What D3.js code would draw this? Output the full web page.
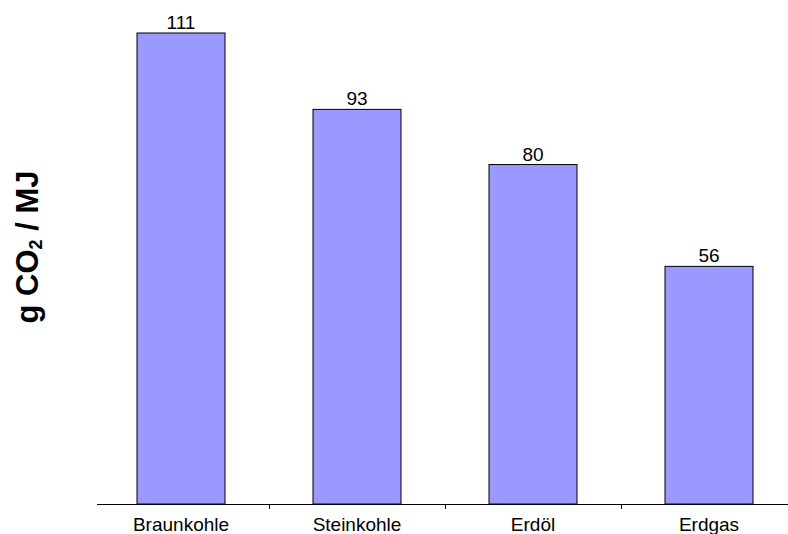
<!DOCTYPE html>
<html>
<head>
<meta charset="utf-8">
<script src="https://cdn.jsdelivr.net/npm/d3@7"></script>
<style>
  html, body { margin: 0; padding: 0; background: #fff; }
  svg { display: block; font-family: "Liberation Sans", Arial, sans-serif; }
</style>
</head>
<body>
<svg id="chart" width="788" height="534"></svg>
<script>
// Emissionsfaktoren fossiler Energieträger (g CO2 je MJ)
const categories = ["Braunkohle", "Steinkohle", "Erdöl", "Erdgas"];
const values = [111, 93, 80, 56];

const svg = d3.select("#chart");

const x = d3.scaleBand()
  .domain(categories)
  .range([93, 797])
  .paddingInner(0.5)
  .paddingOuter(0.25);

const y = d3.scaleLinear()
  .domain([0, 111])
  .range([504, 33]);

// Balken
svg.selectAll("rect.bar")
  .data(values)
  .join("rect")
  .attr("class", "bar")
  .attr("x", (d, i) => x(categories[i]))
  .attr("y", d => y(d))
  .attr("width", x.bandwidth())
  .attr("height", d => y(0) - y(d))
  .attr("fill", "#9999ff")
  .attr("stroke", "#000")
  .attr("stroke-width", 1);

// Werte über den Balken
svg.selectAll("text.val")
  .data(values)
  .join("text")
  .attr("class", "val")
  .attr("x", (d, i) => x(categories[i]) + x.bandwidth() / 2)
  .attr("y", d => y(d) - 4)
  .attr("text-anchor", "middle")
  .attr("font-size", 19)
  .attr("fill", "#000")
  .text(d => d);

// x-Achse
const axisG = svg.append("g");
axisG.append("line")
  .attr("x1", 97).attr("x2", 788)
  .attr("y1", y(0) + 0.5).attr("y2", y(0) + 0.5)
  .attr("stroke", "#000").attr("stroke-width", 1);

// Teilstriche zwischen den Kategorien
const step = x.step();
axisG.selectAll("line.tick")
  .data(categories.slice(1))
  .join("line")
  .attr("class", "tick")
  .attr("x1", d => Math.round(x(d) - step * x.paddingInner() / 2) + 0.5)
  .attr("x2", d => Math.round(x(d) - step * x.paddingInner() / 2) + 0.5)
  .attr("y1", y(0))
  .attr("y2", y(0) + 5)
  .attr("stroke", "#000");

axisG.selectAll("text.cat")
  .data(categories)
  .join("text")
  .attr("class", "cat")
  .attr("x", d => x(d) + x.bandwidth() / 2)
  .attr("y", 531)
  .attr("text-anchor", "middle")
  .attr("font-size", 19)
  .attr("fill", "#000")
  .text(d => d);

// y-Achsentitel
const title = svg.append("text")
  .attr("transform", "translate(38,247) rotate(-90)")
  .attr("text-anchor", "middle")
  .attr("font-size", 31)
  .attr("font-weight", "bold")
  .attr("fill", "#000");
title.append("tspan").text("g CO");
title.append("tspan").attr("font-size", 18).attr("dy", 4).text("2");
title.append("tspan").attr("dy", -4).text(" / MJ");
</script>
</body>
</html>
